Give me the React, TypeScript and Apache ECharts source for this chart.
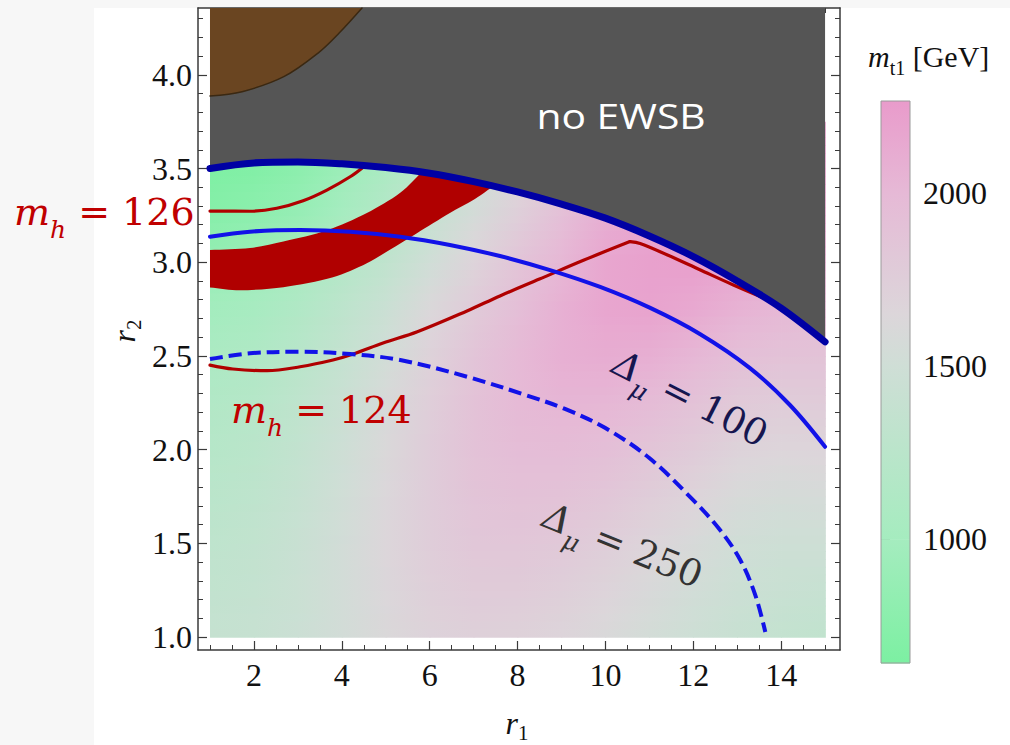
import React, { useEffect, useRef } from "react";
import * as echarts from "echarts";

// ---------------- data ----------------
// m_t1 field: grid nodes
const R1_NODES = [1, 2, 3, 4, 5, 6, 7, 8, 9, 10, 11, 12, 13, 14, 15];
const R2_NODES = [1.0, 1.25, 1.5, 1.75, 2.0, 2.25, 2.5, 2.75, 3.0, 3.25, 3.5, 3.75];
// one row per R2 node (bottom -> top), one column per R1 node, in GeV
const MT1_GEV = [
  [1380, 1400, 1450, 1530, 1620, 1690, 1720, 1710, 1670, 1610, 1540, 1470, 1410, 1360, 1330],
  [1340, 1370, 1440, 1530, 1640, 1730, 1780, 1780, 1740, 1680, 1600, 1530, 1460, 1420, 1400],
  [1300, 1340, 1420, 1530, 1650, 1760, 1830, 1840, 1810, 1750, 1670, 1590, 1510, 1480, 1480],
  [1250, 1300, 1390, 1510, 1640, 1770, 1870, 1900, 1890, 1840, 1760, 1680, 1590, 1560, 1570],
  [1200, 1250, 1350, 1480, 1620, 1770, 1890, 1950, 1960, 1930, 1860, 1780, 1690, 1660, 1670],
  [1150, 1200, 1300, 1430, 1590, 1750, 1890, 1990, 2030, 2020, 1970, 1890, 1800, 1770, 1780],
  [1080, 1130, 1230, 1370, 1530, 1700, 1860, 1990, 2080, 2110, 2090, 2020, 1930, 1890, 1880],
  [980, 1030, 1140, 1290, 1440, 1630, 1790, 1940, 2080, 2170, 2190, 2140, 2060, 2010, 1970],
  [870, 920, 1020, 1160, 1320, 1510, 1680, 1860, 2020, 2170, 2210, 2230, 2170, 2110, 2060],
  [740, 790, 880, 1020, 1190, 1380, 1560, 1740, 1930, 2100, 2180, 2230, 2240, 2190, 2120],
  [660, 700, 780, 920, 1080, 1270, 1450, 1620, 1820, 2000, 2100, 2180, 2200, 2200, 2150],
  [640, 660, 720, 850, 1000, 1200, 1400, 1600, 1800, 1950, 2050, 2100, 2150, 2150, 2150],
];

// EWSB boundary (no EWSB above)
const EWSB_R1 = [1, 2, 3, 4, 5, 6, 7, 8, 9, 10, 11, 12, 13, 14, 15];
const EWSB_R2 = [3.5, 3.53, 3.535, 3.525, 3.505, 3.475, 3.43, 3.375, 3.31, 3.235, 3.14, 3.03, 2.9, 2.755, 2.575];

// brown region (top-left)
const BROWN_R1 = [1, 1.73, 2.68, 3.46, 3.94, 4.46];
const BROWN_R2 = [3.887, 3.91, 3.99, 4.116, 4.223, 4.3565];

// red band
const BAND_UPPER_R1 = [1.0, 1.91, 2.67, 3.67, 4.57, 5.33, 5.9];
const BAND_UPPER_R2 = [3.065, 3.076, 3.11, 3.17, 3.262, 3.37, 3.5];
const BAND_LOWER_R1 = [1.0, 1.68, 2.67, 3.8, 4.57, 5.33, 5.71, 6.46, 7.03, 7.6];
const BAND_LOWER_R2 = [2.865, 2.85, 2.867, 2.92, 2.995, 3.1, 3.155, 3.263, 3.337, 3.43];

// m_h = 126 contour
const MH126_R1 = [1.0, 1.91, 2.52, 3.12, 3.66, 4.19, 4.5];
const MH126_R2 = [3.273, 3.272, 3.288, 3.328, 3.385, 3.456, 3.51];

// m_h = 124 contour (two pieces, kink at the top)
const MH124A_R1 = [1.0, 1.52, 2.3, 3.05, 3.8, 4.26, 4.94, 5.72, 6.85, 7.6, 8.5, 9.5, 10.56];
const MH124A_R2 = [2.451, 2.43, 2.421, 2.442, 2.478, 2.51, 2.569, 2.629, 2.74, 2.82, 2.91, 3.01, 3.11];
const MH124B_R1 = [10.56, 10.79, 11.4, 12.15, 12.9, 13.7];
const MH124B_R2 = [3.11, 3.1, 3.04, 2.96, 2.88, 2.8];

// Delta_mu = 100 contour
const DMU100_R1 = [1.0, 1.91, 3.05, 4.19, 5.33, 6.46, 7.6, 8.74, 9.88, 11.02, 12.15, 13.29, 14.2, 15.0];
const DMU100_R2 = [3.136, 3.163, 3.172, 3.163, 3.136, 3.092, 3.033, 2.958, 2.868, 2.756, 2.617, 2.435, 2.238, 2.015];

// Delta_mu = 250 contour
const DMU250_R1 = [1.0, 1.91, 3.05, 4.19, 5.33, 6.85, 8.2, 9.08, 10.0, 11.0, 12.0, 12.61, 13.07, 13.41, 13.64];
const DMU250_R2 = [2.483, 2.514, 2.522, 2.51, 2.478, 2.389, 2.29, 2.217, 2.115, 1.955, 1.73, 1.571, 1.411, 1.225, 1.027];

// ticks
const X_MAJOR = [2, 4, 6, 8, 10, 12, 14];
const X_MINOR = [1, 1.5, 2.5, 3, 3.5, 4.5, 5, 5.5, 6.5, 7, 7.5, 8.5, 9, 9.5, 10.5, 11, 11.5, 12.5, 13, 13.5, 14.5, 15];
const Y_MAJOR = [1, 1.5, 2, 2.5, 3, 3.5, 4];
const Y_MINOR = [1.1, 1.2, 1.3, 1.4, 1.6, 1.7, 1.8, 1.9, 2.1, 2.2, 2.3, 2.4, 2.6, 2.7, 2.8, 2.9, 3.1, 3.2, 3.3, 3.4, 3.6, 3.7, 3.8, 3.9, 4.1, 4.2, 4.3];
const CB_MAJOR = [1000, 1500, 2000];
const CB_MINOR = [700, 800, 900, 1100, 1200, 1300, 1400, 1600, 1700, 1800, 1900, 2100, 2200];

// colour scale
const CB_STOPS = [643, 1000, 1500, 1650, 2000, 2264];
const CB_COLORS = ["#7cf0a2", "#a5ecbf", "#cfded6", "#dcd6da", "#e6b9d6", "#e99bcb"];

// ---------------- helpers ----------------
const XMIN = 0.727;
const XMAX = 15.34;
const YMIN = 0.9306;
const YMAX = 4.3565;

const AXIS_FONT = "Liberation Serif";
const MATH_FONT = "DejaVu Serif";
const FRAME = "#3a3a3a";
const NSUB = 6;

function hexToRgb(h: string) {
  const n = parseInt(h.slice(1), 16);
  return [(n >> 16) & 255, (n >> 8) & 255, n & 255];
}
const CB_RGB = CB_COLORS.map(hexToRgb);
function colorOf(v: number) {
  let c = CB_RGB[CB_RGB.length - 1];
  if (v <= CB_STOPS[0]) c = CB_RGB[0];
  else {
    for (let k = 0; k < CB_STOPS.length - 1; k++) {
      if (v <= CB_STOPS[k + 1]) {
        const t = (v - CB_STOPS[k]) / (CB_STOPS[k + 1] - CB_STOPS[k]);
        const a = CB_RGB[k];
        const b = CB_RGB[k + 1];
        c = [0, 1, 2].map((q) => a[q] + (b[q] - a[q]) * t);
        break;
      }
    }
  }
  return `rgb(${Math.round(c[0])},${Math.round(c[1])},${Math.round(c[2])})`;
}

const zip = (a: number[], b: number[]) => a.map((x, i) => [x, b[i]]);

function buildOption() {
  const heatCells: number[][] = [];
  for (let j = 0; j < R2_NODES.length - 1; j++) {
    for (let i = 0; i < R1_NODES.length - 1; i++) {
      heatCells.push([
        R1_NODES[i], R2_NODES[j], R1_NODES[i + 1], R2_NODES[j + 1],
        MT1_GEV[j][i], MT1_GEV[j][i + 1], MT1_GEV[j + 1][i], MT1_GEV[j + 1][i + 1],
      ]);
    }
  }
  const cbCells: number[][] = [];
  for (let k = 0; k < CB_STOPS.length - 1; k++) cbCells.push([0, CB_STOPS[k], 1, CB_STOPS[k + 1]]);

  const mainGrid = { left: 198, top: 8, width: 642, height: 642 };
  const cbGrid = { left: 881, top: 101, width: 29, height: 562 };

  const majorX = (position: string, labels: boolean) => ({
    type: "value", gridIndex: 0, position, min: XMIN, max: XMAX,
    axisLine: { show: true, onZero: false, lineStyle: { color: FRAME, width: 1.5 } },
    axisTick: { show: true, inside: true, length: 9, customValues: X_MAJOR, lineStyle: { color: FRAME, width: 1.2 } },
    axisLabel: labels
      ? { show: true, customValues: X_MAJOR, fontFamily: AXIS_FONT, fontSize: 32, color: "#111", margin: 9,
          formatter: (v: number) => String(v) }
      : { show: false },
    splitLine: { show: false },
  });
  const minorX = (position: string) => ({
    type: "value", gridIndex: 1, position, min: XMIN, max: XMAX,
    axisLine: { show: false, onZero: false },
    axisTick: { show: true, inside: true, length: 5, customValues: X_MINOR, lineStyle: { color: FRAME, width: 1 } },
    axisLabel: { show: false },
    splitLine: { show: false },
  });
  const majorY = (position: string, labels: boolean) => ({
    type: "value", gridIndex: 0, position, min: YMIN, max: YMAX,
    axisLine: { show: true, onZero: false, lineStyle: { color: FRAME, width: 1.5 } },
    axisTick: { show: true, inside: true, length: 9, customValues: Y_MAJOR, lineStyle: { color: FRAME, width: 1.2 } },
    axisLabel: labels
      ? { show: true, customValues: Y_MAJOR, fontFamily: AXIS_FONT, fontSize: 32, color: "#111", margin: 6,
          formatter: (v: number) => v.toFixed(1) }
      : { show: false },
    splitLine: { show: false },
  });
  const minorY = (position: string) => ({
    type: "value", gridIndex: 1, position, min: YMIN, max: YMAX,
    axisLine: { show: false, onZero: false },
    axisTick: { show: true, inside: true, length: 5, customValues: Y_MINOR, lineStyle: { color: FRAME, width: 1 } },
    axisLabel: { show: false },
    splitLine: { show: false },
  });

  const line = (r1: number[], r2: number[], color: string, width: number, z: number, extra: any = {}) => ({
    type: "line", xAxisIndex: 0, yAxisIndex: 0, data: zip(r1, r2), symbol: "none", smooth: 0.35,
    silent: true, z, lineStyle: { color, width, cap: "round", ...(extra.lineStyle || {}) },
    ...(extra.series || {}),
  });

  const richLabel = (
    main: string, sub: string, rest: string, size: number, subSize: number, color: string,
    font: string, mainItalic: boolean, subDrop: number,
  ) => ({
    text: rest ? `{m|${main}}{s|${sub}}{n|${rest}}` : `{m|${main}}{s|${sub}}`,
    fill: color,
    rich: {
      m: { fontFamily: font, fontStyle: mainItalic ? "italic" : "normal", fontSize: size, fill: color,
           verticalAlign: "top", lineHeight: size },
      s: { fontFamily: font, fontStyle: font === MATH_FONT ? "italic" : "normal", fontSize: subSize, fill: color,
           verticalAlign: "bottom", lineHeight: Math.round(size * subDrop) },
      n: { fontFamily: font, fontSize: size, fill: color, verticalAlign: "top", lineHeight: size },
    },
  });

  return {
    animation: false,
    grid: [
      { ...mainGrid, containLabel: false },
      { ...mainGrid, containLabel: false },
      { ...cbGrid, containLabel: false },
      { ...cbGrid, containLabel: false },
    ],
    xAxis: [
      majorX("bottom", true),
      majorX("top", false),
      minorX("bottom"),
      minorX("top"),
      { type: "value", gridIndex: 2, min: 0, max: 1, show: false },
      { type: "value", gridIndex: 3, min: 0, max: 1, show: false },
    ],
    yAxis: [
      majorY("left", true),
      majorY("right", false),
      minorY("left"),
      minorY("right"),
      {
        type: "value", gridIndex: 2, position: "right", min: CB_STOPS[0], max: CB_STOPS[CB_STOPS.length - 1],
        axisLine: { show: false },
        axisTick: { show: true, inside: false, length: 9, customValues: CB_MAJOR, lineStyle: { color: "#666", width: 1 } },
        axisLabel: { show: true, customValues: CB_MAJOR, fontFamily: AXIS_FONT, fontSize: 32, color: "#111", margin: 13,
                     formatter: (v: number) => String(v) },
        splitLine: { show: false },
      },
      {
        type: "value", gridIndex: 3, position: "right", min: CB_STOPS[0], max: CB_STOPS[CB_STOPS.length - 1],
        axisLine: { show: false },
        axisTick: { show: true, inside: false, length: 5, customValues: CB_MINOR, lineStyle: { color: "#888", width: 1 } },
        axisLabel: { show: false },
        splitLine: { show: false },
      },
    ],
    series: [
      // m_t1 density
      {
        type: "custom", xAxisIndex: 0, yAxisIndex: 0, z: 1, silent: true, data: heatCells,
        renderItem: (params: any, api: any) => {
          const a = api.coord([api.value(0), api.value(3)]);
          const b = api.coord([api.value(2), api.value(1)]);
          const w = b[0] - a[0];
          const h = b[1] - a[1];
          const v00 = api.value(4), v10 = api.value(5), v01 = api.value(6), v11 = api.value(7);
          const children: any[] = [];
          for (let s = 0; s < NSUB; s++) {
            const u = 1 - (s + 0.5) / NSUB; // fraction from the bottom of the cell
            const left = v00 + (v01 - v00) * u;
            const right = v10 + (v11 - v10) * u;
            children.push({
              type: "rect",
              shape: { x: a[0], y: a[1] + (h * s) / NSUB, width: w + 0.8, height: h / NSUB + 0.8 },
              style: {
                fill: new echarts.graphic.LinearGradient(0, 0, 1, 0, [
                  { offset: 0, color: colorOf(left) },
                  { offset: 1, color: colorOf(right) },
                ]),
              },
            });
          }
          return { type: "group", children };
        },
      },
      // red band
      {
        type: "custom", xAxisIndex: 0, yAxisIndex: 0, z: 2, silent: true,
        data: [[BAND_UPPER_R1[0], BAND_UPPER_R2[0]]],
        renderItem: (params: any, api: any) => {
          const up = BAND_UPPER_R1.map((x, i) => api.coord([x, BAND_UPPER_R2[i]]));
          const lo = BAND_LOWER_R1.map((x, i) => api.coord([x, BAND_LOWER_R2[i]]));
          const loRev = lo.slice().reverse();
          const pts = [up[0], ...up, up[up.length - 1], loRev[0], ...loRev, lo[0]];
          return { type: "polygon", shape: { points: pts, smooth: 0.3 }, style: { fill: "#b00000" } };
        },
      },
      line(MH126_R1, MH126_R2, "#b00000", 3.2, 3),
      line(MH124A_R1, MH124A_R2, "#b00000", 3.2, 3),
      line(MH124B_R1, MH124B_R2, "#b00000", 3.2, 3),
      line(DMU100_R1, DMU100_R2, "#1212e8", 4, 3),
      line(DMU250_R1, DMU250_R2, "#1212e8", 4, 3, { lineStyle: { type: [13, 6], cap: "butt" } }),
      // no EWSB region
      line(EWSB_R1, EWSB_R2, "#333333", 2, 4, {
        series: { areaStyle: { color: "#555555", opacity: 1, origin: "end" } },
      }),
      // brown region
      line(BROWN_R1, BROWN_R2, "#3a2812", 1.5, 5, {
        series: { areaStyle: { color: "#6a4521", opacity: 1, origin: "end" } },
      }),
      // EWSB boundary
      line(EWSB_R1, EWSB_R2, "#0000a4", 7, 6),
      // colour bar
      {
        type: "custom", xAxisIndex: 4, yAxisIndex: 4, z: 2, silent: true, data: cbCells,
        renderItem: (params: any, api: any) => {
          const a = api.coord([api.value(0), api.value(3)]);
          const b = api.coord([api.value(2), api.value(1)]);
          const g = new echarts.graphic.LinearGradient(0, 1, 0, 0, [
            { offset: 0, color: colorOf(api.value(1)) },
            { offset: 1, color: colorOf(api.value(3)) },
          ]);
          return { type: "rect", shape: { x: a[0], y: a[1], width: b[0] - a[0], height: b[1] - a[1] + 0.6 }, style: { fill: g } };
        },
      },
    ],
    graphic: {
      elements: [
        {
          type: "rect", z: 50, silent: true,
          shape: { x: cbGrid.left, y: cbGrid.top, width: cbGrid.width, height: cbGrid.height },
          style: { fill: "none", stroke: "#9a9a9a", lineWidth: 1 },
        },
        {
          type: "text", x: 621, y: 116, z: 100, silent: true, scaleX: 1.2,
          style: { text: "no EWSB", fill: "#ffffff", fontFamily: "Open Sans", fontSize: 34, align: "center", verticalAlign: "middle" },
        },
        {
          type: "text", x: 14, y: 193, z: 100, silent: true,
          style: { ...richLabel("m", "h", " = 126", 38, 25, "#c00000", MATH_FONT, true, 1.28), verticalAlign: "top" },
        },
        {
          type: "text", x: 231, y: 391, z: 100, silent: true,
          style: { ...richLabel("m", "h", " = 124", 38, 25, "#c00000", MATH_FONT, true, 1.28), verticalAlign: "top" },
        },
        {
          type: "text", x: 688, y: 403, z: 100, silent: true, rotation: -0.471,
          style: { ...richLabel("Δ", "μ", " = 100", 37, 25, "#16164f", MATH_FONT, true, 1.28), align: "center", verticalAlign: "middle" },
        },
        {
          type: "text", x: 621, y: 550, z: 100, silent: true, rotation: -0.384,
          style: { ...richLabel("Δ", "μ", " = 250", 37, 25, "#333333", MATH_FONT, true, 1.28), align: "center", verticalAlign: "middle" },
        },
        {
          type: "text", x: 517, y: 707, z: 100, silent: true,
          style: { ...richLabel("r", "1", "", 32, 21, "#111111", AXIS_FONT, true, 1.12), align: "center", verticalAlign: "top" },
        },
        {
          type: "text", x: 126, y: 331, z: 100, silent: true, rotation: Math.PI / 2,
          style: { ...richLabel("r", "2", "", 32, 21, "#111111", AXIS_FONT, true, 1.12), align: "center", verticalAlign: "middle" },
        },
        {
          type: "text", x: 868, y: 41, z: 100, silent: true,
          style: {
            text: "{m|m}{s|t1}{n| [GeV]}",
            fill: "#111111",
            verticalAlign: "top",
            rich: {
              m: { fontFamily: AXIS_FONT, fontStyle: "italic", fontSize: 30, fill: "#111", verticalAlign: "top", lineHeight: 30 },
              s: { fontFamily: AXIS_FONT, fontSize: 20, fill: "#111", verticalAlign: "bottom", lineHeight: 37 },
              n: { fontFamily: AXIS_FONT, fontSize: 30, fill: "#111", verticalAlign: "top", lineHeight: 30 },
            },
          },
        },
      ],
    },
  };
}

export default function App() {
  const ref = useRef<HTMLDivElement>(null);
  useEffect(() => {
    if (!ref.current) return;
    const chart = echarts.init(ref.current, undefined, { renderer: "svg" });
    chart.setOption(buildOption() as any);
    return () => chart.dispose();
  }, []);
  return (
    <div style={{ position: "fixed", left: 0, top: 0, width: 1010, height: 745, background: "#f7f7f7", overflow: "hidden" }}>
      <div style={{ position: "absolute", left: 94, top: 8, width: 916, height: 737, background: "#ffffff" }} />
      <div ref={ref} style={{ position: "absolute", left: 0, top: 0, width: 1010, height: 745 }} />
    </div>
  );
}
